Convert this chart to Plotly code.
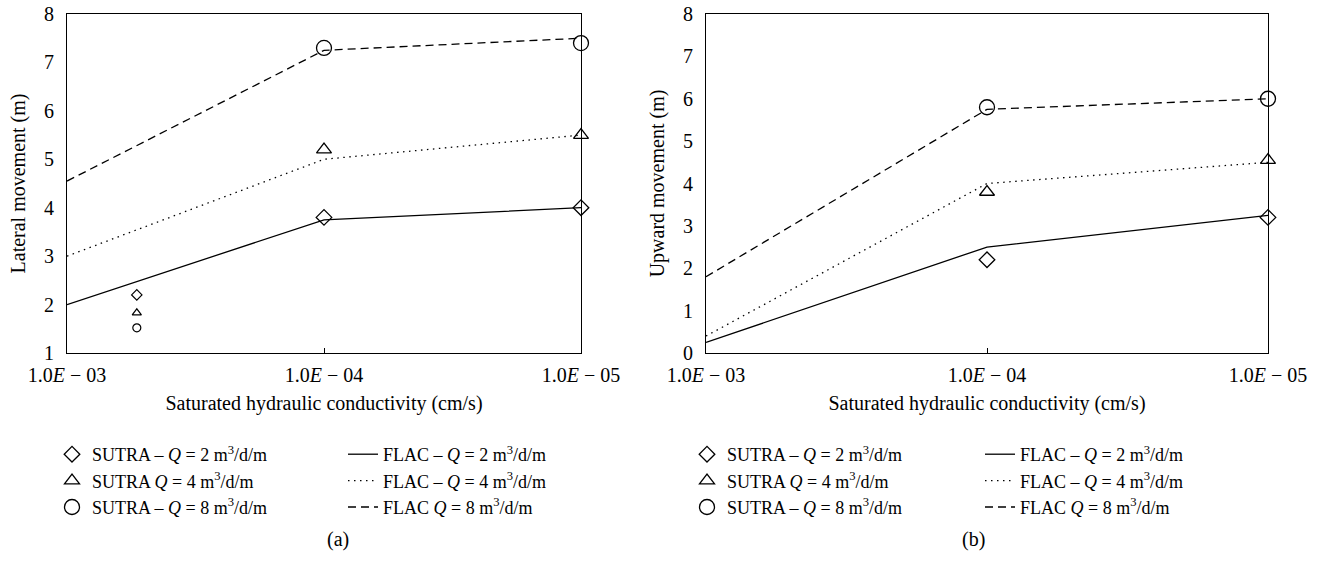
import plotly.graph_objects as go

# ---------------- data ----------------
x_k = [1e-3, 1e-4, 1e-5]                 # saturated hydraulic conductivity (cm/s)
x_tick_vals = [1e-3, 1e-4, 1e-5]
x_tick_text = ["1.0<i>E</i> − 03", "1.0<i>E</i> − 04", "1.0<i>E</i> − 05"]

# Panel (a): lateral movement (m)
a_sutra_q2 = [2.2, 3.8, 4.0]
a_sutra_q4 = [2.8, 5.2, 5.5]
a_sutra_q8 = [4.3, 7.3, 7.4]
a_flac_q2 = [2.0, 3.75, 4.0]
a_flac_q4 = [3.0, 5.0, 5.5]
a_flac_q8 = [4.55, 7.25, 7.5]
# small stray markers in panel (a)
a_stray_x = [5.35e-4]
a_stray_q2 = [2.2]
a_stray_q4 = [1.83]
a_stray_q8 = [1.52]

# Panel (b): upward movement (m)
b_sutra_q2 = [0.25, 2.2, 3.2]
b_sutra_q4 = [0.35, 3.8, 4.55]
b_sutra_q8 = [1.5, 5.8, 6.0]
b_flac_q2 = [0.25, 2.5, 3.25]
b_flac_q4 = [0.4, 4.0, 4.5]
b_flac_q8 = [1.8, 5.75, 6.0]

sutra_names = [
    "SUTRA – <i>Q</i> = 2 m<sup>3</sup>/d/m",
    "SUTRA <i>Q</i> = 4 m<sup>3</sup>/d/m",
    "SUTRA – <i>Q</i> = 8 m<sup>3</sup>/d/m",
]
flac_names = [
    "FLAC – <i>Q</i> = 2 m<sup>3</sup>/d/m",
    "FLAC – <i>Q</i> = 4 m<sup>3</sup>/d/m",
    "FLAC <i>Q</i> = 8 m<sup>3</sup>/d/m",
]

FONT = "Liberation Serif"
FS = 20
LFS = 18
W, H = 1322, 563

symbols = ["diamond-open", "triangle-up-open", "circle-open"]
msizes = [12, 13, 15]
dashes = ["solid", "1.5px,4.5px", "8px,5px"]

fig = go.Figure()

def add_panel(xa, ya, sutra, flac, leg_s, leg_f):
    for i in range(3):
        fig.add_trace(go.Scatter(
            x=x_k, y=flac[i], mode="lines", name=flac_names[i],
            line=dict(color="black", width=1.3, dash=dashes[i]),
            xaxis=xa, yaxis=ya, legend=leg_f, cliponaxis=False,
        ))
    for i in range(3):
        fig.add_trace(go.Scatter(
            x=x_k, y=sutra[i], mode="markers", name=sutra_names[i],
            marker=dict(symbol=symbols[i], size=msizes[i], color="black",
                        line=dict(color="black", width=1.3)),
            xaxis=xa, yaxis=ya, legend=leg_s, cliponaxis=False,
        ))

add_panel("x", "y", [a_sutra_q2, a_sutra_q4, a_sutra_q8],
          [a_flac_q2, a_flac_q4, a_flac_q8], "legend", "legend2")
add_panel("x2", "y2", [b_sutra_q2, b_sutra_q4, b_sutra_q8],
          [b_flac_q2, b_flac_q4, b_flac_q8], "legend3", "legend4")

for vals, sym in zip([a_stray_q2, a_stray_q4, a_stray_q8], symbols):
    fig.add_trace(go.Scatter(
        x=a_stray_x, y=vals, mode="markers", showlegend=False,
        marker=dict(symbol=sym, size=8, color="black",
                    line=dict(color="black", width=1.2)),
        xaxis="x", yaxis="y", cliponaxis=False,
    ))

def xaxis_cfg(domain, anchor):
    return dict(
        domain=domain, type="log", range=[-3, -5], anchor=anchor,
        automargin=False,
        tickvals=x_tick_vals, ticktext=x_tick_text,
        ticks="inside", ticklen=5, tickcolor="black", tickwidth=1,
        showline=True, linecolor="black", linewidth=1.2, mirror=True,
        showgrid=False, zeroline=False, ticklabelstandoff=4,
        tickfont=dict(family=FONT, size=FS, color="black"),
        title=dict(text="Saturated hydraulic conductivity (cm/s)",
                   font=dict(family=FONT, size=FS, color="black"), standoff=10),
    )

def yaxis_cfg(domain, rng, title, anchor):
    return dict(
        domain=domain, range=rng, dtick=1, anchor=anchor, automargin=False,
        ticks="", showline=True, linecolor="black", linewidth=1.2, mirror=True,
        showgrid=False, zeroline=False,
        tickfont=dict(family=FONT, size=FS, color="black"),
        ticklabelstandoff=8,
        title=dict(text=title, font=dict(family=FONT, size=FS, color="black"),
                   standoff=12),
    )

ydom = [1 - 353 / H, 1 - 14 / H]
fig.update_layout(
    width=W, height=H,
    margin=dict(l=0, r=0, t=0, b=0, autoexpand=False),
    paper_bgcolor="white", plot_bgcolor="white",
    font=dict(family=FONT, size=FS, color="black"),
    xaxis=xaxis_cfg([67 / W, 581 / W], "y"),
    yaxis=yaxis_cfg(ydom, [1, 8], "Lateral movement (m)", "x"),
    xaxis2=xaxis_cfg([706 / W, 1268 / W], "y2"),
    yaxis2=yaxis_cfg(ydom, [0, 8], "Upward movement (m)", "x2"),
)

leg_common = dict(yanchor="top", xanchor="left", bgcolor="rgba(0,0,0,0)",
                  font=dict(family=FONT, size=LFS, color="black"),
                  tracegroupgap=0, itemwidth=30, orientation="v")
ly = 1 - 436 / H
fig.update_layout(
    legend=dict(x=52 / W, y=ly, **leg_common),
    legend2=dict(x=343 / W, y=ly, **leg_common),
    legend3=dict(x=687 / W, y=ly, **leg_common),
    legend4=dict(x=980 / W, y=ly, **leg_common),
)

for txt, xc in [("(a)", 325), ("(b)", 987)]:
    fig.add_annotation(text=txt, x=xc / W, y=1 - 539 / H, xref="paper",
                       yref="paper", showarrow=False, yanchor="middle",
                       font=dict(family=FONT, size=FS, color="black"))

fig.write_html("out.html")
